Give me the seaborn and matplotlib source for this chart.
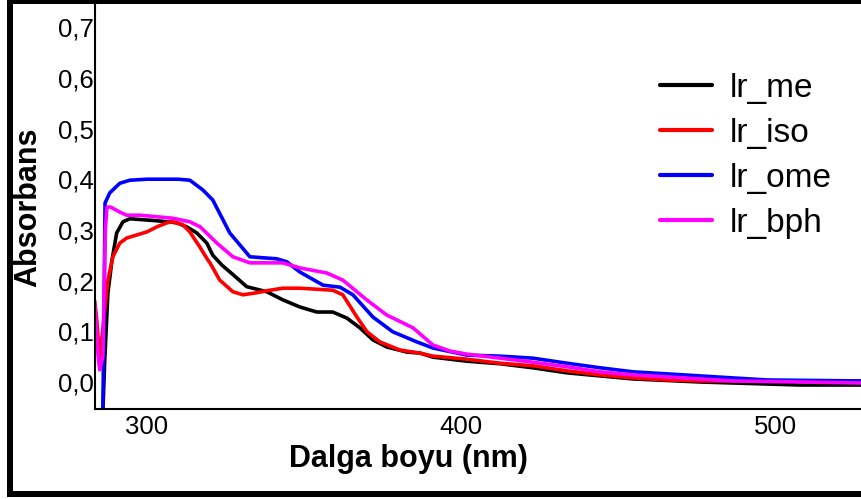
import matplotlib
matplotlib.use("Agg")
import matplotlib.pyplot as plt
from matplotlib.patches import Rectangle
from matplotlib.ticker import FuncFormatter, FixedLocator
import seaborn as sns
import pandas as pd

# ---- data ----
series_names = ["lr_me", "lr_iso", "lr_ome", "lr_bph"]
series_colors = ["#000000", "#ff0000", "#0000ff", "#ff00ff"]

me_x = [283.5, 286.0, 286.6, 287.6, 288.9, 290.4, 292.4, 294.6, 303.2, 309.6, 312.7,
        315.9, 319.1, 321.0, 324.0, 327.4, 331.8, 338.2, 343.3, 348.7, 354.1, 359.2, 363.7,
        367.8, 372.0, 376.4, 382.8, 387.0, 391.1, 401.9, 412.4, 422.9, 433.8, 444.3,
        454.8, 476.1, 508.0, 527.7]
me_y = [-0.10, -0.06, 0.043, 0.175, 0.240, 0.294, 0.316, 0.322, 0.318, 0.314, 0.306,
        0.294, 0.274, 0.250, 0.230, 0.212, 0.188, 0.178, 0.162, 0.148, 0.138, 0.138, 0.126,
        0.107, 0.083, 0.069, 0.059, 0.057, 0.049, 0.041, 0.036, 0.028, 0.018, 0.012,
        0.006, 0.000, -0.006, -0.006]

iso_x = [283.4, 284.1, 285.0, 286.6, 287.6, 289.2, 291.4, 293.6, 296.8, 300.0, 303.2,
         306.4, 308.3, 311.5, 313.7, 316.9, 319.4, 320.1, 323.2, 327.4, 330.6, 335.0,
         338.2, 343.3, 348.7, 359.2, 362.4, 366.9, 370.1, 374.2, 380.6, 386.9, 391.1,
         401.9, 412.4, 422.9, 433.8, 444.3, 454.8, 465.6, 476.1, 527.7]
iso_y = [0.160, 0.120, 0.043, 0.142, 0.200, 0.247, 0.274, 0.284, 0.290, 0.296, 0.306,
         0.314, 0.316, 0.310, 0.296, 0.266, 0.241, 0.235, 0.201, 0.178, 0.172, 0.176,
         0.180, 0.185, 0.185, 0.181, 0.172, 0.128, 0.099, 0.079, 0.063, 0.057, 0.051,
         0.045, 0.037, 0.032, 0.022, 0.014, 0.008, 0.004, 0.002, 0.002]

ome_x = [283.5, 286.0, 286.3, 286.7, 288.2, 291.4, 294.6, 300.0, 310.0, 313.7, 317.8,
         321.0, 326.4, 332.8, 337.0, 341.4, 344.6, 348.7, 356.1, 361.5, 365.6, 372.0,
         378.3, 386.0, 391.1, 401.9, 412.4, 422.9, 433.8, 444.3, 454.8, 465.6, 476.1,
         486.6, 497.5, 527.7]
ome_y = [-0.10, -0.06, 0.10, 0.353, 0.373, 0.392, 0.398, 0.400, 0.400, 0.398, 0.379,
         0.359, 0.294, 0.247, 0.245, 0.243, 0.237, 0.217, 0.191, 0.187, 0.172, 0.128,
         0.099, 0.079, 0.067, 0.053, 0.051, 0.047, 0.037, 0.028, 0.020, 0.016, 0.012,
         0.008, 0.004, 0.002]

bph_x = [283.5, 284.5, 285.0, 286.0, 286.8, 287.3, 288.5, 291.4, 293.6, 297.8, 308.3,
         313.7, 317.0, 322.3, 327.4, 332.8, 343.3, 348.7, 357.3, 362.4, 370.0, 376.4,
         384.7, 391.1, 396.5, 401.9, 412.4, 422.9, 433.8, 444.3, 454.8, 465.6, 476.1,
         486.6, 507.9, 527.7]
bph_y = [0.150, 0.050, 0.024, 0.050, 0.300, 0.345, 0.345, 0.335, 0.329, 0.329, 0.323,
         0.316, 0.306, 0.274, 0.247, 0.235, 0.235, 0.225, 0.215, 0.201, 0.162, 0.132,
         0.107, 0.073, 0.061, 0.055, 0.047, 0.039, 0.030, 0.020, 0.014, 0.010, 0.006,
         0.002, 0.000, -0.002]

y_ticks = [0.0, 0.1, 0.2, 0.3, 0.4, 0.5, 0.6, 0.7]
x_ticks = [300, 400, 500]
x_label = "Dalga boyu (nm)"
y_label = "Absorbans"

frames = []
for name, xs, ys in [("lr_me", me_x, me_y), ("lr_iso", iso_x, iso_y),
                     ("lr_ome", ome_x, ome_y), ("lr_bph", bph_x, bph_y)]:
    frames.append(pd.DataFrame({"nm": xs, "abs": ys, "series": name}))
df = pd.concat(frames, ignore_index=True)

# ---- style ----
sns.set_theme(style="white")
plt.rcParams["font.family"] = ["Liberation Sans", "DejaVu Sans"]
plt.rcParams["text.color"] = "black"

fig = plt.figure(figsize=(8.62, 4.99), dpi=100)
ax = fig.add_axes([95 / 862, 90 / 499, 1 - 95 / 862, 409 / 499])

sns.lineplot(data=df, x="nm", y="abs", hue="series", hue_order=series_names,
             palette=series_colors, estimator=None, sort=False, linewidth=2.6,
             ax=ax, legend=False)

ax.set_xlim(283.5, 527.7)
ax.set_ylim(-0.0533, 0.7535)
ax.xaxis.set_major_locator(FixedLocator(x_ticks))
ax.yaxis.set_major_locator(FixedLocator(y_ticks))
ax.yaxis.set_major_formatter(FuncFormatter(lambda v, p: f"{v:.1f}".replace(".", ",")))
ax.tick_params(axis="both", length=0, labelsize=18.5, colors="black")
ax.tick_params(axis="y", pad=1)
ax.tick_params(axis="x", pad=4)

for s in ["top", "right"]:
    ax.spines[s].set_visible(False)
for s in ["left", "bottom"]:
    ax.spines[s].set_color("black")
    ax.spines[s].set_linewidth(1.5)

ax.set_xlabel(x_label, fontsize=22, fontweight="bold", color="black")
ax.set_ylabel(y_label, fontsize=22, fontweight="bold", color="black")
ax.xaxis.set_label_coords(0.409, -0.085)
ax.yaxis.set_label_coords(-0.068, 0.494)

handles = [plt.Line2D([], [], color=c, linewidth=3) for c in series_colors]
leg = fig.legend(handles, series_names, loc="upper left",
                 bbox_to_anchor=(660 / 862, 1 - 73 / 499), frameon=False,
                 fontsize=24, handlelength=1.55, handletextpad=0.55,
                 labelspacing=0.42, borderpad=0, borderaxespad=0,
                 labelcolor="black")

# black frame around the figure (cropped on the right)
W, H = 862, 499
for (x0, y0, w, h) in [(7, 0, 6, 497), (7, 0, 862, 4), (7, 491, 862, 6)]:
    fig.add_artist(Rectangle((x0 / W, 1 - (y0 + h) / H), w / W, h / H,
                             transform=fig.transFigure, facecolor="black",
                             edgecolor="none", zorder=10))

fig.savefig("out.png", dpi=100)
